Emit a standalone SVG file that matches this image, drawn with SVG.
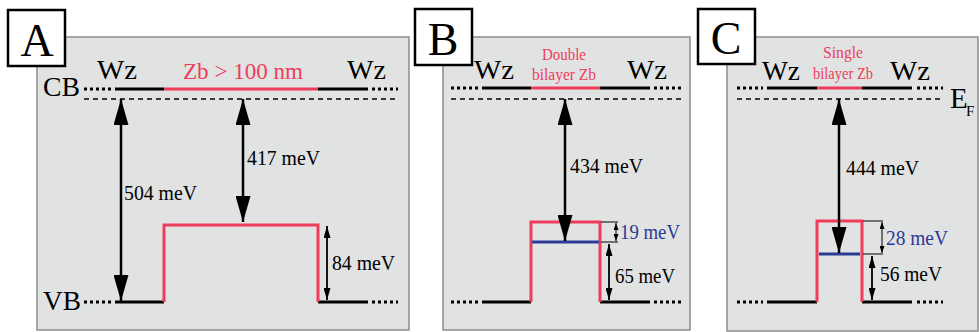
<svg xmlns="http://www.w3.org/2000/svg" width="980" height="332" viewBox="0 0 980 332">
<defs>
<marker id="big" viewBox="0 0 26 15" refX="26" refY="7.5" markerWidth="26" markerHeight="15" markerUnits="userSpaceOnUse" orient="auto-start-reverse"><path d="M0,0 L26,7.5 L0,15 z" fill="#000"/></marker>
<marker id="small" viewBox="0 0 12 7" refX="12" refY="3.5" markerWidth="12" markerHeight="7" markerUnits="userSpaceOnUse" orient="auto-start-reverse"><path d="M0,0 L12,3.5 L0,7 z" fill="#000"/></marker>
<marker id="tiny" viewBox="0 0 7 5" refX="7" refY="2.5" markerWidth="7" markerHeight="5" markerUnits="userSpaceOnUse" orient="auto-start-reverse"><path d="M0,0 L7,2.5 L0,5 z" fill="#000"/></marker>
</defs>
<style>
.panel{fill:#e1e2e2;stroke:#8c8c8c;stroke-width:1.5}
.lab{fill:#fff;stroke:#000;stroke-width:2.5}
.labt{font-family:"Liberation Serif",serif;font-size:46px;fill:#000;text-anchor:middle}
.lvl{stroke:#000;stroke-width:3;fill:none}
.dot{stroke:#000;stroke-width:3;stroke-dasharray:3 3;fill:none}
.dash{stroke:#000;stroke-width:1.3;stroke-dasharray:5 4;fill:none}
.red{stroke:#ee3d5a;stroke-width:3;fill:none}
.blue{stroke:#2b3a96;stroke-width:3;fill:none}
.arr{stroke:#000;stroke-width:2.5;fill:none;marker-start:url(#big);marker-end:url(#big)}
.sarr{stroke:#000;stroke-width:1.8;fill:none;marker-start:url(#small);marker-end:url(#small)}
.tarr{stroke:#000;stroke-width:1;fill:none;marker-start:url(#tiny);marker-end:url(#tiny)}
.thin{stroke:#000;stroke-width:1;fill:none}
.t{font-family:"Liberation Serif",serif;fill:#000}
.big{font-size:28px}
.wz{font-size:27px}
.meas{font-size:22px}
.rt{fill:#ee3d5a}
.bt{fill:#2b3a96}
.sm{font-size:16px;text-anchor:middle}
</style>

<g id="panelA">
<rect class="panel" x="37" y="37" width="372" height="293"/>
<rect class="lab" x="8" y="10" width="57" height="56"/>
<text class="labt" x="37" y="56">A</text>
<text class="t big" x="43" y="96" textLength="37" lengthAdjust="spacingAndGlyphs">CB</text>
<text class="t big" x="43" y="310" textLength="38" lengthAdjust="spacingAndGlyphs">VB</text>
<text class="t wz" x="97" y="79" textLength="40" lengthAdjust="spacingAndGlyphs">Wz</text>
<text class="t wz" x="347" y="79" textLength="39" lengthAdjust="spacingAndGlyphs">Wz</text>
<text class="t rt" x="183" y="79" font-size="24" textLength="120" lengthAdjust="spacingAndGlyphs">Zb &gt; 100 nm</text>
<path class="dot" d="M84,89 H112 M372,89 H398 M84,302 H112 M372,302 H398"/>
<path class="lvl" d="M115,89 H164 M318,89 H368 M115,302 H164 M318,302 H368"/>
<path class="red" d="M164,89 H318"/>
<path class="dash" d="M84,99 H398"/>
<path class="red" d="M164,302 V225 H318 V302"/>
<text class="t meas" x="124" y="200" textLength="73" lengthAdjust="spacingAndGlyphs">504 meV</text>
<text class="t meas" x="247" y="165" textLength="73" lengthAdjust="spacingAndGlyphs">417 meV</text>
<text class="t meas" x="332" y="270" textLength="63" lengthAdjust="spacingAndGlyphs">84 meV</text>
</g>

<g id="panelB">
<rect class="panel" x="443" y="37" width="247" height="293"/>
<rect class="lab" x="415" y="9" width="57" height="56"/>
<text class="labt" x="443" y="55">B</text>
<text class="t wz" x="474" y="79" textLength="40" lengthAdjust="spacingAndGlyphs">Wz</text>
<text class="t wz" x="627" y="79" textLength="40" lengthAdjust="spacingAndGlyphs">Wz</text>
<text class="t rt sm" x="564" y="60" textLength="44" lengthAdjust="spacingAndGlyphs">Double</text>
<text class="t rt sm" x="564" y="80" textLength="64" lengthAdjust="spacingAndGlyphs">bilayer Zb</text>
<path class="dot" d="M451,88 H479 M654,88 H681 M451,302 H479 M654,302 H681"/>
<path class="lvl" d="M482,88 H531 M600,88 H650 M482,302 H531 M600,302 H650"/>
<path class="red" d="M531,88 H600"/>
<path class="dash" d="M451,99 H681"/>
<path class="red" d="M531,302 V222 H600 V302"/>
<path class="blue" d="M532,242 H599"/>
<path class="thin" d="M601,222 H618 M601,242 H618"/>
<text class="t meas" x="570" y="173" textLength="73" lengthAdjust="spacingAndGlyphs">434 meV</text>
<text class="t meas bt" x="620" y="239" textLength="60" lengthAdjust="spacingAndGlyphs">19 meV</text>
<text class="t meas" x="615" y="283" textLength="60" lengthAdjust="spacingAndGlyphs">65 meV</text>
</g>

<g id="panelC">
<rect class="panel" x="727" y="37" width="251" height="294"/>
<rect class="lab" x="698" y="9" width="57" height="55"/>
<text class="labt" x="726" y="54">C</text>
<text class="t wz" x="762" y="80" textLength="38" lengthAdjust="spacingAndGlyphs">Wz</text>
<text class="t wz" x="890" y="80" textLength="40" lengthAdjust="spacingAndGlyphs">Wz</text>
<text class="t rt sm" x="843" y="58" textLength="40" lengthAdjust="spacingAndGlyphs">Single</text>
<text class="t rt sm" x="843" y="79" textLength="60" lengthAdjust="spacingAndGlyphs">bilayer Zb</text>
<path class="dot" d="M737,88 H763 M917,88 H943 M737,302 H763 M917,302 H943"/>
<path class="lvl" d="M767,88 H817 M862,88 H912 M767,302 H817 M862,302 H912"/>
<path class="red" d="M817,88 H862"/>
<path class="dash" d="M737,99 H943"/>
<path class="red" d="M817,302 V221 H862 V302"/>
<path class="blue" d="M819,254 H860"/>
<path class="thin" d="M863,221 H883 M863,254 H883"/>
<text class="t" x="950" y="108" font-size="29">E</text>
<text class="t" x="966" y="116" font-size="15">F</text>
<text class="t meas" x="846" y="175" textLength="73" lengthAdjust="spacingAndGlyphs">444 meV</text>
<text class="t meas bt" x="886" y="245" textLength="62" lengthAdjust="spacingAndGlyphs">28 meV</text>
<text class="t meas" x="880" y="281" textLength="62" lengthAdjust="spacingAndGlyphs">56 meV</text>
</g>

<g id="connectors">
<line class="arr" x1="121" y1="99" x2="121" y2="301"/>
<line class="arr" x1="243" y1="99" x2="243" y2="222"/>
<line class="sarr" x1="327" y1="226" x2="327" y2="300"/>
<line class="arr" x1="565" y1="99" x2="565" y2="241"/>
<line class="tarr" x1="616" y1="223" x2="616" y2="241"/>
<line class="sarr" x1="609" y1="244" x2="609" y2="300"/>
<line class="arr" x1="839" y1="99" x2="839" y2="253"/>
<line class="tarr" x1="882" y1="222" x2="882" y2="253"/>
<line class="sarr" x1="872" y1="256" x2="872" y2="300"/>
</g>
</svg>
